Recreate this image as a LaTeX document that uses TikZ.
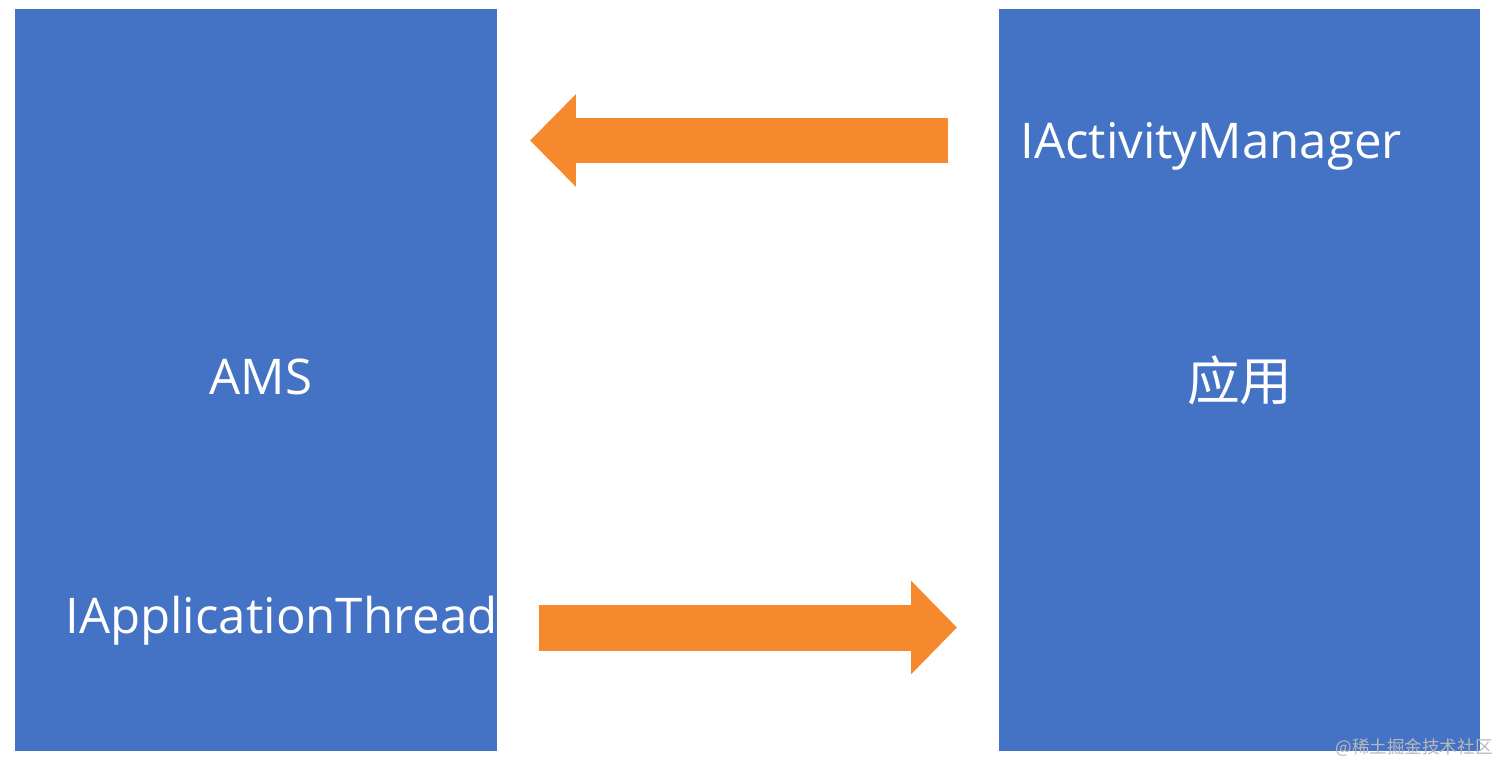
\documentclass[tikz,border=0pt]{standalone}
\usepackage{fontspec}
\setmainfont{Open Sans}
\newfontfamily\cjkfont{Noto Sans CJK SC}
\usetikzlibrary{arrows.meta,positioning}

\begin{document}
\begin{tikzpicture}[x=0.02cm,y=-0.02cm]
% Define colors
\definecolor{boxblue}{RGB}{68,114,196}
\definecolor{callorange}{RGB}{246,136,46}
\definecolor{markgray}{RGB}{185,185,185}

\useasboundingbox (0,0) rectangle (1500,764);

% Process boxes
\node[fill=boxblue,minimum width=9.64cm,minimum height=14.84cm,inner sep=0,anchor=north west] (ams) at (15,9) {};
\node[fill=boxblue,minimum width=9.62cm,minimum height=14.84cm,inner sep=0,anchor=north west] (app) at (999,9) {};

% Box labels
\node[text=white,inner sep=0,anchor=base,font=\fontsize{28}{32}\selectfont] (amsname) at (261,394) {AMS};
\node[text=white,inner sep=0,font=\cjkfont\fontsize{30}{34}\selectfont] (appname) at (app.center) {应用};

% Binder interfaces
\node[text=white,inner sep=0,anchor=base west,font=\fontsize{28}{32}\selectfont] (amsbinder) at (65,633) {IApplicationThread};
\node[text=white,inner sep=0,anchor=base west,font=\fontsize{28}{32}\selectfont] (appbinder) at (1020,158) {IActivityManager};

% Calls between the two sides
\coordinate (callstart) at (948,140.5);
\coordinate (callend) at (530,140.5);
\draw[callorange,line width=0.9cm,-{Triangle[length=0.92cm,width=1.8cm]}] (callstart) -- (callend);

\coordinate (backstart) at (539,627.5);
\coordinate (backend) at (957,627.5);
\draw[callorange,line width=0.92cm,-{Triangle[length=0.92cm,width=1.82cm]}] (backstart) -- (backend);

% Watermark
\node[text=markgray,inner sep=0,anchor=base east,font=\cjkfont\fontsize{10}{12}\selectfont] (mark) at (1493,753) {@稀土掘金技术社区};
\end{tikzpicture}
\end{document}
